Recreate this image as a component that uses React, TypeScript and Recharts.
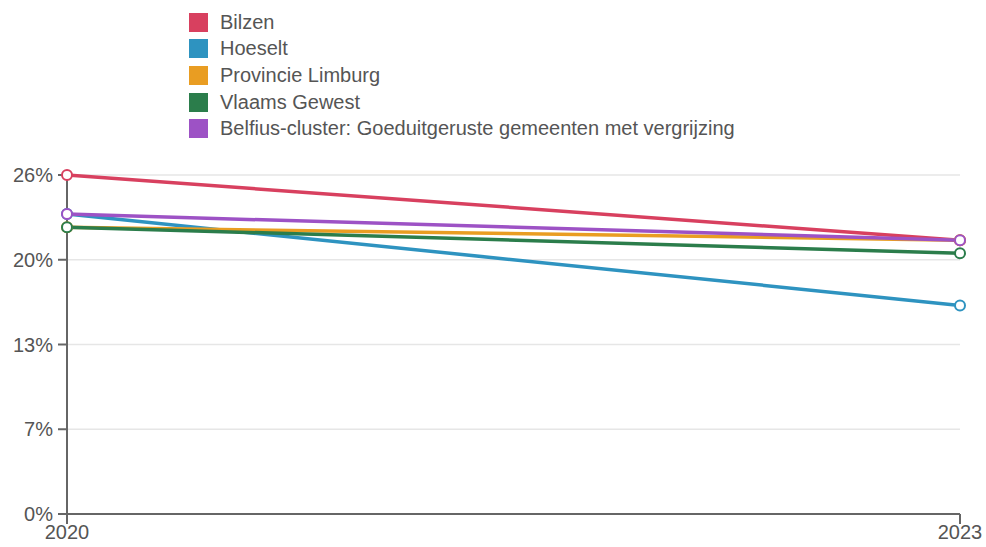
import React from "react";
import { LineChart, Line, XAxis, YAxis, CartesianGrid } from "recharts";

const years = [2020, 2023];
const seriesNames = [
  "Bilzen",
  "Hoeselt",
  "Provincie Limburg",
  "Vlaams Gewest",
  "Belfius-cluster: Goeduitgeruste gemeenten met vergrijzing",
];
const bilzen = [26, 21];
const hoeselt = [23, 16];
const limburg = [22, 21];
const vlaanderen = [22, 20];
const belfius = [23, 21];
const yTicks = [0, 6.5, 13, 19.5, 26];
const colors = ["#d8405f", "#2e93c0", "#e99d22", "#2b7d4b", "#9d52c5"];

const allValues = [bilzen, hoeselt, limburg, vlaanderen, belfius];
const data = years.map((y, i) => {
  const row: any = { year: y };
  seriesNames.forEach((n, k) => {
    row[n] = allValues[k][i];
  });
  return row;
});

const font = "'Liberation Sans', Arial, sans-serif";

const LegendBlock = () => (
  <div
    style={{
      position: "absolute",
      left: 189,
      top: 9,
      fontFamily: font,
      fontSize: 20,
      color: "#555",
      zIndex: 2,
    }}
  >
    {seriesNames.map((n, i) => (
      <div key={n} style={{ display: "flex", alignItems: "center", height: 26.6 }}>
        <div style={{ width: 19, height: 19, background: colors[i], marginRight: 12 }} />
        <span style={{ whiteSpace: "nowrap" }}>{n}</span>
      </div>
    ))}
  </div>
);

export default function App() {
  return (
    <div style={{ position: "absolute", left: 0, top: 0, width: 986, height: 547, background: "#fff" }}>
      <LegendBlock />
      <LineChart
        width={986}
        height={547}
        data={data}
        margin={{ top: 175, right: 26, bottom: 0, left: 0 }}
      >
        <CartesianGrid vertical={false} stroke="#e6e6e6" strokeWidth={1.5} />
        <XAxis
          dataKey="year"
          type="number"
          domain={[2020, 2023]}
          ticks={years}
          height={33}
          stroke="#666"
          strokeWidth={2}
          tickSize={10}
          tickMargin={1}
          tick={{ fill: "#555", fontSize: 20, fontFamily: font }}
        />
        <YAxis
          width={67}
          domain={[0, 26]}
          ticks={yTicks}
          interval={0}
          stroke="#666"
          strokeWidth={2}
          tickSize={9}
          tickMargin={5}
          tickFormatter={(v: number) => `${Math.round(v)}%`}
          tick={{ fill: "#555", fontSize: 20, fontFamily: font }}
        />
        {seriesNames.map((n, i) => (
          <Line
            key={n}
            dataKey={n}
            stroke={colors[i]}
            strokeWidth={3.5}
            dot={{ r: 5, fill: "#fff", stroke: colors[i], strokeWidth: 2 }}
            activeDot={false}
            isAnimationActive={false}
          />
        ))}
      </LineChart>
    </div>
  );
}
